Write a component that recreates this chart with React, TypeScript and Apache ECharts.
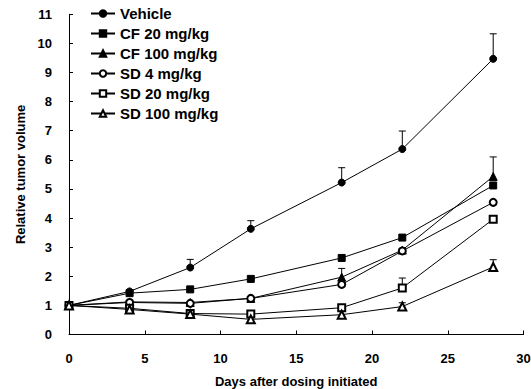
import React, { useEffect, useRef } from "react";
import * as echarts from "echarts";

const days = [0, 4, 8, 12, 18, 22, 28];
const seriesNames = ["Vehicle", "CF 20 mg/kg", "CF 100 mg/kg", "SD 4 mg/kg", "SD 20 mg/kg", "SD 100 mg/kg"];
const vehicle = [1, 1.48, 2.3, 3.63, 5.22, 6.37, 9.47];
const cf20 = [1, 1.42, 1.55, 1.91, 2.63, 3.33, 5.12];
const cf100 = [1, 1.12, 1.1, 1.24, 1.97, 2.9, 5.43];
const sd4 = [1, 1.1, 1.07, 1.24, 1.72, 2.87, 4.54];
const sd20 = [1, 0.9, 0.72, 0.7, 0.92, 1.6, 3.96];
const sd100 = [1, 0.86, 0.7, 0.52, 0.68, 0.96, 2.32];
// upward error (SEM) shown as bars with caps; 0 = not visible
const vehicleErr = [0, 0, 0.28, 0.28, 0.51, 0.62, 0.86];
const cf100Err = [0, 0, 0, 0, 0.3, 0, 0.67];
const sd20Err = [0, 0, 0, 0, 0, 0.34, 0];
const sd100Err = [0, 0, 0, 0, 0, 0.13, 0.25];
const yTicks = [0, 1, 2, 3, 4, 5, 6, 7, 8, 9, 10, 11];
const xTicks = [0, 5, 10, 15, 20, 25, 30];

const FONT = "'Liberation Sans', Arial, sans-serif";

export default function App() {
  const ref = useRef<HTMLDivElement>(null);
  useEffect(() => {
    if (!ref.current) return;
    const chart = echarts.init(ref.current, undefined, { renderer: "svg" });
    const all = [vehicle, cf20, cf100, sd4, sd20, sd100];
    const symbols = ["circle", "rect", "triangle", "emptyCircle", "emptyRect", "emptyTriangle"];
    const sizes = [7, 7, 8, 7, 7, 8];
    const lineSeries = all.map((vals, i) => ({
      name: seriesNames[i],
      type: "line",
      data: days.map((d, j) => [d, vals[j]]),
      symbol: symbols[i],
      symbolSize: sizes[i],
      showAllSymbol: true,
      lineStyle: { color: "#000", width: 1 },
      itemStyle: { color: "#000", borderColor: "#000", borderWidth: 1 },
      z: 3,
    }));
    const errData: number[][] = [];
    const addErr = (vals: number[], errs: number[]) => {
      days.forEach((d, j) => {
        if (errs[j] > 0) errData.push([d, vals[j], vals[j] + errs[j]]);
      });
    };
    addErr(vehicle, vehicleErr);
    addErr(cf100, cf100Err);
    addErr(sd20, sd20Err);
    addErr(sd100, sd100Err);
    const errSeries = {
      type: "custom",
      data: errData,
      z: 2,
      silent: true,
      renderItem: (params: any, api: any) => {
        const x = api.value(0);
        const p0 = api.coord([x, api.value(1)]);
        const p1 = api.coord([x, api.value(2)]);
        const style = { stroke: "#000", lineWidth: 1 };
        return {
          type: "group",
          children: [
            { type: "line", shape: { x1: p0[0], y1: p0[1], x2: p1[0], y2: p1[1] }, style },
            { type: "line", shape: { x1: p1[0] - 3.5, y1: p1[1], x2: p1[0] + 3.5, y2: p1[1] }, style },
          ],
        };
      },
    };
    chart.setOption({
      animation: false,
      backgroundColor: "#fff",
      grid: { left: 69, right: 7.5, top: 14.3, bottom: 54.5, containLabel: false, outerBoundsMode: "none" },
      legend: {
        orient: "vertical",
        left: 85,
        top: 1,
        itemWidth: 24,
        itemHeight: 8,
        itemGap: 5,
        data: seriesNames,
        textStyle: { fontFamily: FONT, fontWeight: "bold", fontSize: 15, color: "#000", lineHeight: 14 },
      },
      xAxis: {
        type: "value",
        min: xTicks[0],
        max: xTicks[xTicks.length - 1],
        interval: 5,
        name: "Days after dosing initiated",
        nameLocation: "middle",
        nameGap: 40,
        nameTextStyle: { fontFamily: FONT, fontWeight: "bold", fontSize: 13, color: "#000" },
        axisLine: { lineStyle: { color: "#000", width: 1 } },
        axisTick: { inside: true, length: 4, lineStyle: { color: "#000" } },
        axisLabel: { fontFamily: FONT, fontWeight: "bold", fontSize: 13, color: "#000", margin: 17 },
        splitLine: { show: false },
      },
      yAxis: {
        type: "value",
        min: yTicks[0],
        max: yTicks[yTicks.length - 1],
        interval: 1,
        name: "Relative tumor volume",
        nameLocation: "middle",
        nameGap: 42,
        nameTextStyle: { fontFamily: FONT, fontWeight: "bold", fontSize: 13, color: "#000" },
        axisLine: { show: true, lineStyle: { color: "#000", width: 1 } },
        axisTick: { show: true, inside: true, length: 4, lineStyle: { color: "#000" } },
        axisLabel: { fontFamily: FONT, fontWeight: "bold", fontSize: 13, color: "#000", margin: 17 },
        splitLine: { show: false },
      },
      series: [...lineSeries, errSeries],
    });
    return () => chart.dispose();
  }, []);
  return <div ref={ref} style={{ width: 531, height: 389, position: "absolute", left: 0, top: 0 }} />;
}
